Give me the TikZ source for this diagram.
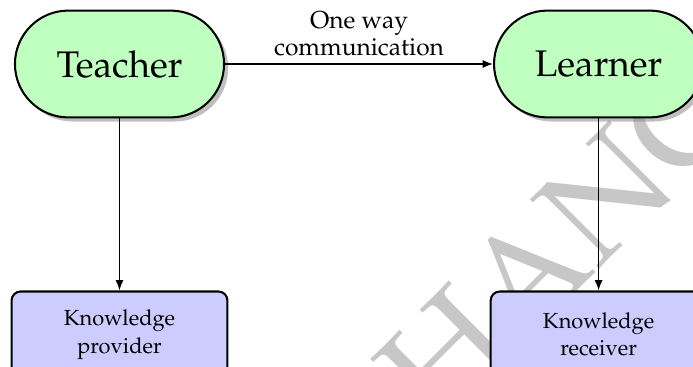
\documentclass[tikz,border=0pt]{standalone}
\usepackage[T1]{fontenc}
\usepackage{mathpazo}
\usetikzlibrary{arrows.meta,positioning,shadows}
\tikzset{
    %Define standard arrow tip
    >={Latex[length=4.6pt,width=3.6pt]},
    %Define style for the two actors
    actor/.style={
           rectangle,
           rounded corners=23.5pt,
           draw=black, line width=0.9pt,
           fill=green!25,
           minimum width=92pt,
           minimum height=47pt,
           font=\fontsize{16.3}{19}\selectfont,
           text centered,
           drop shadow={shadow xshift=1.8pt,shadow yshift=-1.8pt},
           },
    %Define style for the roles
    role/.style={
           rectangle,
           rounded corners=4pt,
           draw=black, line width=0.9pt,
           fill=blue!20,
           minimum width=95pt,
           minimum height=38pt,
           font=\fontsize{9.6}{11.9}\selectfont,
           align=center,
           },
    % Define arrow style
    pil/.style={
           ->,
           line width=0.7pt,},
}
\begin{document}
\begin{tikzpicture}[x=0.44pt,y=0.44pt,node distance=75.7pt and 117.9pt]
\useasboundingbox (0,0) rectangle (693,-366);
\clip (0,0) rectangle (693,-366);

 %watermark
\node[rotate=45, anchor=base west, inner sep=0pt, text=black!22,
  font=\fontsize{62}{62}\selectfont] (mark) at (437,-431) {HANC};

 %nodes
\node[actor] (teacher) at (119.5,-64) {Teacher};
\node[actor, right=of teacher] (learner) {Learner};
\node[role, below=of teacher] (provider) {Knowledge\\provider};
\node[role, below=of learner] (receiver) {Knowledge\\receiver};
 \path[pil]
    (teacher) edge node[above, align=center, inner sep=3.3pt,
      font=\fontsize{10.8}{10.4}\selectfont] {One way\\communication} (learner)
    (teacher) edge (provider)
    (learner) edge (receiver);

\end{tikzpicture}
\end{document}
